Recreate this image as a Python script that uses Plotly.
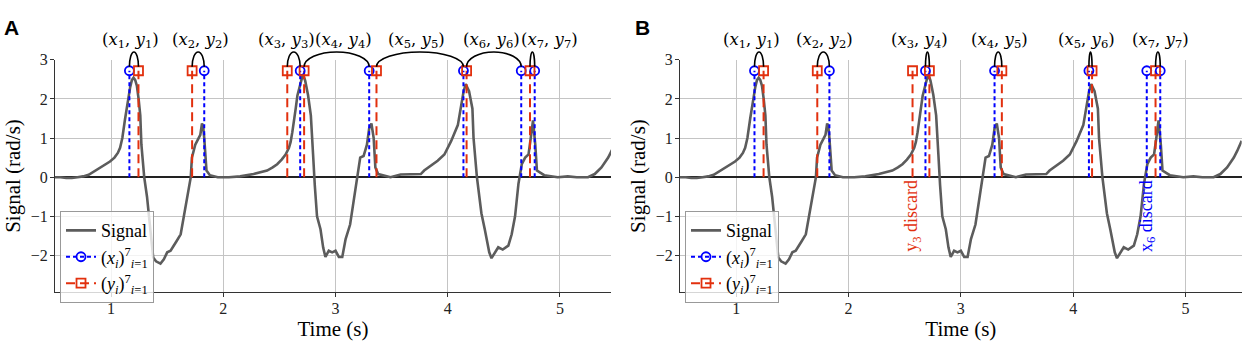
import plotly.graph_objects as go

# ---------------- data ----------------
time_s = [0.50, 0.55, 0.60, 0.65, 0.70, 0.75, 0.80, 0.85, 0.90, 0.95, 0.99, 1.03, 1.06, 1.08,
          1.10, 1.125, 1.14, 1.155, 1.17, 1.185, 1.20, 1.215, 1.23, 1.245, 1.26, 1.27, 1.28,
          1.295, 1.32, 1.35, 1.36, 1.375, 1.40, 1.44, 1.47, 1.50, 1.53, 1.555, 1.58, 1.62,
          1.645, 1.655, 1.69, 1.71, 1.72, 1.75, 1.78, 1.795, 1.81, 1.82, 1.83, 1.85, 1.88,
          1.95, 2.05, 2.15, 2.27, 2.35, 2.39, 2.44, 2.48, 2.52, 2.555, 2.585, 2.60, 2.615,
          2.63, 2.645, 2.66, 2.69, 2.705, 2.72, 2.73, 2.755, 2.78, 2.80, 2.81, 2.815, 2.835,
          2.866, 2.89, 2.91, 2.94, 2.97, 3.00, 3.03, 3.06, 3.09, 3.13, 3.145, 3.18, 3.20,
          3.21, 3.22, 3.25, 3.28, 3.30, 3.32, 3.34, 3.355, 3.38, 3.45, 3.49, 3.58, 3.70,
          3.76, 3.79, 3.85, 3.91, 3.97, 4.03, 4.09, 4.12, 4.14, 4.16, 4.19, 4.22, 4.23,
          4.26, 4.30, 4.33, 4.37, 4.39, 4.42, 4.45, 4.49, 4.54, 4.57, 4.60, 4.63, 4.645,
          4.66, 4.69, 4.72, 4.74, 4.76, 4.78, 4.795, 4.86, 4.98, 5.07, 5.15, 5.25, 5.31,
          5.37, 5.43, 5.46, 5.50]
signal = [0.00, 0.00, -0.02, -0.02, 0.00, 0.02, 0.06, 0.15, 0.25, 0.32, 0.40, 0.50, 0.62, 0.75,
          1.00, 1.50, 1.80, 2.08, 2.30, 2.48, 2.54, 2.48, 2.33, 2.00, 1.58, 0.83, 0.40,
          0.00, -0.50, -1.33, -1.58, -2.05, -2.15, -2.21, -2.10, -1.92, -1.88, -1.75, -1.65, -1.46,
          -1.04, -0.92, -0.33, 0.00, 0.50, 0.83, 1.00, 1.08, 1.37, 1.30, 1.00, 0.17, 0.05,
          0.00, 0.00, 0.02, 0.08, 0.13, 0.17, 0.25, 0.33, 0.45, 0.58, 0.75, 0.90, 1.15,
          1.42, 1.75, 2.08, 2.42, 2.58, 2.55, 2.46, 2.10, 1.58, 0.58, 0.00, -0.20, -1.00,
          -1.33, -1.80, -2.04, -1.88, -1.92, -1.88, -2.04, -2.04, -1.58, -1.21, -0.92, -0.33, 0.10,
          0.33, 0.50, 0.54, 0.83, 1.25, 1.37, 1.00, 0.25, 0.08, 0.02, 0.00, 0.07, 0.08,
          0.08, 0.17, 0.30, 0.42, 0.58, 0.92, 1.33, 1.83, 2.17, 2.38, 2.20, 1.75, 1.00,
          0.00, -0.92, -1.33, -1.92, -2.07, -1.92, -1.79, -1.85, -1.75, -1.46, -1.00, -0.17, 0.08,
          0.33, 0.50, 0.58, 1.00, 1.45, 0.83, 0.17, 0.05, 0.00, 0.02, 0.00, 0.00, 0.08,
          0.25, 0.50, 0.67, 0.93]

x_events = [1.163, 1.830, 2.685, 3.300, 4.140, 4.655, 4.775]   # (x_i)
y_events = [1.244, 1.722, 2.570, 2.720, 3.365, 4.168, 4.733]   # (y_i)
marker_level = 2.72

# pairings (index into x_events, index into y_events)
pairs_a = [(0, 0), (1, 1), (2, 2), (3, 3), (4, 4), (5, 5), (6, 6)]
pairs_b = [(0, 0), (1, 1), (2, 3), (3, 4), (4, 5), (6, 6)]
label_pos_a = [1.177, 1.80, 2.562, 3.075, 3.72, 4.387, 4.91]
label_pos_b = [1.138, 1.79, 2.63, 3.34, 4.12, 4.773]
discard_y_b = [2]   # y_3 discarded
discard_x_b = [5]   # x_6 discarded

xticks = [1, 2, 3, 4, 5]
yticks = [-2, -1, 0, 1, 2, 3]

# ---------------- style ----------------
W, H = 1248, 344
BLUE = "#0000ff"
RED = "#e2300e"
GRAY = "#5c5c5c"
SERIF = "Liberation Serif"
MATH = "DejaVu Serif"

ydom = [1 - 291 / H, 1 - 53 / H]
yrange = [-2.94, 3.0]
ytop = yrange[0] + (yrange[1] - yrange[0]) / (ydom[1] - ydom[0]) * (1 - ydom[0])
xdom_a = [55 / W, 611 / W]
xdom_b = [680 / W, 1241.7 / W]
xrange_a = [0.5, 5.455]
xrange_b = [0.5, 5.5]

fig = go.Figure()


def vlines(xs):
    xx, yy = [], []
    for v in xs:
        xx += [v, v, None]
        yy += [0, marker_level, None]
    return xx, yy


def add_panel(xa, ya, leg):
    fig.add_trace(go.Scatter(x=time_s, y=signal, mode="lines", name="Signal",
                             line=dict(color=GRAY, width=2.6), xaxis=xa, yaxis=ya,
                             legend=leg, showlegend=True))
    bx, by = vlines(x_events)
    fig.add_trace(go.Scatter(x=bx, y=by, mode="lines", showlegend=False, hoverinfo="skip",
                             line=dict(color=BLUE, width=2, dash="4px,3px"), xaxis=xa, yaxis=ya))
    rx, ry = vlines(y_events)
    fig.add_trace(go.Scatter(x=rx, y=ry, mode="lines", showlegend=False, hoverinfo="skip",
                             line=dict(color=RED, width=2, dash="9px,5px"), xaxis=xa, yaxis=ya))
    fig.add_trace(go.Scatter(x=x_events, y=[marker_level] * len(x_events), mode="markers",
                             showlegend=False,
                             marker=dict(symbol="circle-open", size=9, color=BLUE,
                                         line=dict(width=1.8, color=BLUE)),
                             xaxis=xa, yaxis=ya, cliponaxis=False))
    fig.add_trace(go.Scatter(x=y_events, y=[marker_level] * len(y_events), mode="markers",
                             showlegend=False,
                             marker=dict(symbol="square-open", size=9, color=RED,
                                         line=dict(width=1.8, color=RED)),
                             xaxis=xa, yaxis=ya, cliponaxis=False))
    # legend-only entries
    fig.add_trace(go.Scatter(x=[None], y=[None], mode="lines+markers",
                             name="(<i>x<sub>i</sub></i>)<sup>7</sup><sub><i>i</i>=1</sub>",
                             line=dict(color=BLUE, width=2, dash="4px,3px"),
                             marker=dict(symbol="circle-open", size=9, color=BLUE,
                                         line=dict(width=1.8, color=BLUE)),
                             xaxis=xa, yaxis=ya, legend=leg))
    fig.add_trace(go.Scatter(x=[None], y=[None], mode="lines+markers",
                             name="(<i>y<sub>i</sub></i>)<sup>7</sup><sub><i>i</i>=1</sub>",
                             line=dict(color=RED, width=2, dash="9px,5px"),
                             marker=dict(symbol="square-open", size=9, color=RED,
                                         line=dict(width=1.8, color=RED)),
                             xaxis=xa, yaxis=ya, legend=leg))


add_panel("x", "y", "legend")
add_panel("x2", "y2", "legend2")

# arcs + labels on overlay axes (extend above plot area)
arc_base = 2.82
arc_h = 0.38


def add_arcs(pairs, label_pos, xref, yref):
    for k, (i, j) in enumerate(pairs):
        a, b = sorted([x_events[i], y_events[j]])
        c = (a + b) / 2
        r = (b - a) / 2
        kk = 0.5523
        path = (f"M {a},{arc_base} C {a},{arc_base + kk * arc_h} {c - kk * r},{arc_base + arc_h} "
                f"{c},{arc_base + arc_h} C {c + kk * r},{arc_base + arc_h} {b},{arc_base + kk * arc_h} "
                f"{b},{arc_base}")
        fig.add_shape(type="path", path=path, xref=xref, yref=yref,
                      line=dict(color="black", width=1.6))
        fig.add_annotation(x=label_pos[k], y=3.49, xref=xref, yref=yref,
                           text=f"(<i>x</i><sub>{i + 1}</sub>, <i>y</i><sub>{j + 1}</sub>)",
                           showarrow=False, font=dict(family=MATH, size=16.5, color="black"),
                           xanchor="center", yanchor="middle")


add_arcs(pairs_a, label_pos_a, "x3", "y3")
add_arcs(pairs_b, label_pos_b, "x4", "y4")

for j in discard_y_b:
    fig.add_annotation(x=y_events[j], y=0, xref="x2", yref="y2", textangle=-90,
                       text=f"y<sub>{j + 1}</sub> discard", showarrow=False,
                       font=dict(family=SERIF, size=18, color=RED),
                       xanchor="center", yanchor="top", yshift=-1)
for i in discard_x_b:
    fig.add_annotation(x=x_events[i], y=0, xref="x2", yref="y2", textangle=-90,
                       text=f"x<sub>{i + 1}</sub> discard", showarrow=False,
                       font=dict(family=SERIF, size=18, color=BLUE),
                       xanchor="center", yanchor="top", yshift=-1)

# panel letters
fig.add_annotation(x=2 / W, y=1 - 6 / H, xref="paper", yref="paper", text="<b>A</b>",
                   showarrow=False, xanchor="left", yanchor="top",
                   font=dict(family="Liberation Sans", size=21, color="black"))
fig.add_annotation(x=633 / W, y=1 - 6 / H, xref="paper", yref="paper", text="<b>B</b>",
                   showarrow=False, xanchor="left", yanchor="top",
                   font=dict(family="Liberation Sans", size=21, color="black"))

xax = dict(showgrid=True, gridcolor="#c4c4c4", gridwidth=1, zeroline=False,
           showline=True, linecolor="#333333", linewidth=1.2, mirror=False,
           ticks="outside", ticklen=4, tickcolor="#333333", ticklabelstandoff=-3,
           tickvals=xticks, tickfont=dict(family=SERIF, size=16, color="#222"),
           title=dict(text="Time (s)", font=dict(family=SERIF, size=21, color="black"), standoff=4))
yax = dict(showgrid=True, gridcolor="#c4c4c4", gridwidth=1,
           zeroline=True, zerolinecolor="#222222", zerolinewidth=1.5,
           showline=True, linecolor="#333333", linewidth=1.2, mirror=False,
           ticks="outside", ticklen=4, tickcolor="#333333", ticklabelstandoff=-1,
           tickvals=yticks, tickfont=dict(family=SERIF, size=16, color="#222"),
           title=dict(text="Signal (rad/s)", font=dict(family=SERIF, size=21, color="black"), standoff=4),
           domain=ydom, range=yrange)
hidden_x = dict(visible=False, showgrid=False, zeroline=False)
hidden_y = dict(visible=False, showgrid=False, zeroline=False, domain=[ydom[0], 1.0],
                range=[yrange[0], ytop])

legend_style = dict(bgcolor="rgba(255,255,255,0.8)", bordercolor="#999999", borderwidth=1,
                    font=dict(family=SERIF, size=18, color="black"), xanchor="left",
                    yanchor="top", y=1 - 208 / H, tracegroupgap=0, itemwidth=30)

fig.update_layout(
    width=W, height=H, margin=dict(l=0, r=0, t=0, b=0),
    paper_bgcolor="white", plot_bgcolor="rgba(0,0,0,0)",
    xaxis=dict(xax, domain=xdom_a, range=xrange_a, anchor="y"),
    yaxis=dict(yax, anchor="x"),
    xaxis2=dict(xax, domain=xdom_b, range=xrange_b, anchor="y2"),
    yaxis2=dict(yax, anchor="x2"),
    xaxis3=dict(hidden_x, domain=xdom_a, range=xrange_a, anchor="y3"),
    yaxis3=dict(hidden_y, anchor="x3"),
    xaxis4=dict(hidden_x, domain=xdom_b, range=xrange_b, anchor="y4"),
    yaxis4=dict(hidden_y, anchor="x4"),
    legend=dict(legend_style, x=60 / W),
    legend2=dict(legend_style, x=685 / W),
    showlegend=True,
)

fig.write_html("out.html", config={"displayModeBar": False},
               post_script="document.body.style.margin='0';")
